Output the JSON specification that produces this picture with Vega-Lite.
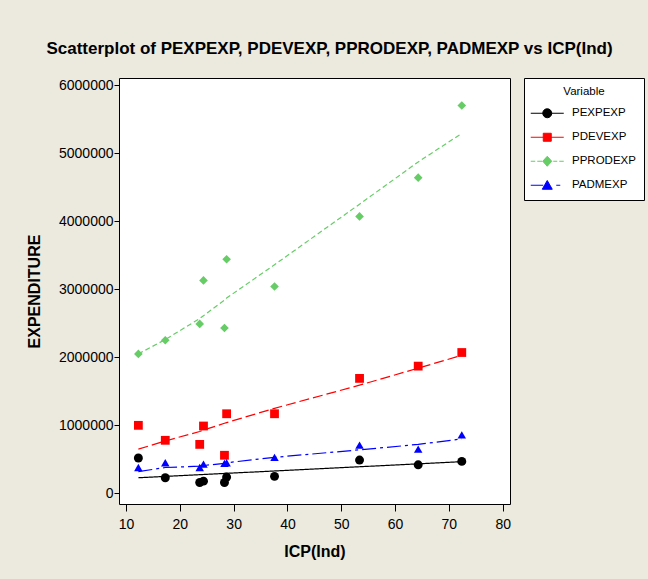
{
  "$schema": "https://vega.github.io/schema/vega-lite/v6.json",
  "width": 391,
  "height": 426,
  "autosize": "none",
  "padding": {"left": 119, "top": 78, "right": 138, "bottom": 75},
  "background": "#ECE9DF",
  "title": {
    "text": "Scatterplot of PEXPEXP, PDEVEXP, PPRODEXP, PADMEXP vs ICP(Ind)",
    "font": "Liberation Sans, Arial, sans-serif",
    "fontSize": 17,
    "fontWeight": "bold",
    "color": "#000000",
    "anchor": "middle",
    "dx": 15,
    "offset": 20
  },
  "config": {
    "view": {"stroke": "#000000", "strokeWidth": 1, "fill": "#FFFFFF"},
    "font": "Liberation Sans, Arial, sans-serif",
    "axis": {
      "domain": false,
      "grid": false,
      "tickColor": "#000000",
      "labelColor": "#000000",
      "titleColor": "#000000",
      "labelFont": "Liberation Sans, Arial, sans-serif",
      "titleFont": "Liberation Sans, Arial, sans-serif",
      "labelFontSize": 14,
      "titleFontSize": 16,
      "titleFontWeight": "bold"
    }
  },
  "data": {
    "values": [
      {"x": 12.3, "series": "PEXPEXP", "y": 520000, "fit": 230000},
      {"x": 17.3, "series": "PEXPEXP", "y": 230000, "fit": 249600},
      {"x": 23.7, "series": "PEXPEXP", "y": 160000, "fit": 274800},
      {"x": 24.4, "series": "PEXPEXP", "y": 180000, "fit": 277500},
      {"x": 28.3, "series": "PEXPEXP", "y": 160000, "fit": 292800},
      {"x": 28.7, "series": "PEXPEXP", "y": 240000, "fit": 294400},
      {"x": 37.6, "series": "PEXPEXP", "y": 250000, "fit": 329400},
      {"x": 53.4, "series": "PEXPEXP", "y": 490000, "fit": 391400},
      {"x": 64.3, "series": "PEXPEXP", "y": 420000, "fit": 434200},
      {"x": 72.4, "series": "PEXPEXP", "y": 470000, "fit": 466000},
      {"x": 12.3, "series": "PDEVEXP", "y": 1000000, "fit": 650000},
      {"x": 17.3, "series": "PDEVEXP", "y": 780000, "fit": 770000},
      {"x": 23.7, "series": "PDEVEXP", "y": 720000, "fit": 910000},
      {"x": 24.4, "series": "PDEVEXP", "y": 990000, "fit": 930000},
      {"x": 28.3, "series": "PDEVEXP", "y": 560000, "fit": 1030000},
      {"x": 28.7, "series": "PDEVEXP", "y": 1170000, "fit": 1040000},
      {"x": 37.6, "series": "PDEVEXP", "y": 1170000, "fit": 1250000},
      {"x": 53.4, "series": "PDEVEXP", "y": 1690000, "fit": 1590000},
      {"x": 64.3, "series": "PDEVEXP", "y": 1870000, "fit": 1840000},
      {"x": 72.4, "series": "PDEVEXP", "y": 2070000, "fit": 2030000},
      {"x": 12.3, "series": "PPRODEXP", "y": 2050000, "fit": 2050000},
      {"x": 17.3, "series": "PPRODEXP", "y": 2250000, "fit": 2260000},
      {"x": 23.7, "series": "PPRODEXP", "y": 2490000, "fit": 2570000},
      {"x": 24.4, "series": "PPRODEXP", "y": 3130000, "fit": 2610000},
      {"x": 28.3, "series": "PPRODEXP", "y": 2430000, "fit": 2840000},
      {"x": 28.7, "series": "PPRODEXP", "y": 3440000, "fit": 2870000},
      {"x": 37.6, "series": "PPRODEXP", "y": 3040000, "fit": 3360000},
      {"x": 53.4, "series": "PPRODEXP", "y": 4070000, "fit": 4250000},
      {"x": 64.3, "series": "PPRODEXP", "y": 4640000, "fit": 4870000},
      {"x": 72.4, "series": "PPRODEXP", "y": 5700000, "fit": 5290000},
      {"x": 12.3, "series": "PADMEXP", "y": 380000, "fit": 320000},
      {"x": 17.3, "series": "PADMEXP", "y": 450000, "fit": 380000},
      {"x": 23.7, "series": "PADMEXP", "y": 380000, "fit": 400000},
      {"x": 24.4, "series": "PADMEXP", "y": 430000, "fit": 410000},
      {"x": 28.3, "series": "PADMEXP", "y": 440000, "fit": 440000},
      {"x": 28.7, "series": "PADMEXP", "y": 450000, "fit": 450000},
      {"x": 37.6, "series": "PADMEXP", "y": 530000, "fit": 530000},
      {"x": 53.4, "series": "PADMEXP", "y": 710000, "fit": 640000},
      {"x": 64.3, "series": "PADMEXP", "y": 650000, "fit": 720000},
      {"x": 72.4, "series": "PADMEXP", "y": 860000, "fit": 800000}
    ]
  },
  "encoding": {
    "x": {
      "field": "x",
      "type": "quantitative",
      "scale": {"domain": [8.7, 81.36], "nice": false, "zero": false},
      "axis": {"values": [10, 20, 30, 40, 50, 60, 70, 80], "tickSize": 7, "labelPadding": 6, "title": "ICP(Ind)", "titlePadding": 12}
    }
  },
  "layer": [
    {
      "mark": {"type": "line", "strokeWidth": 1.2},
      "encoding": {
        "y": {
          "field": "fit",
          "type": "quantitative",
          "scale": {"domain": [-156000, 6104000], "nice": false, "zero": false},
          "axis": {"values": [0, 1000000, 2000000, 3000000, 4000000, 5000000, 6000000], "format": "d", "tickSize": 5, "labelPadding": 1, "title": "EXPENDITURE", "titlePadding": 16}
        },
        "color": {
          "field": "series",
          "type": "nominal",
          "scale": {"domain": ["PEXPEXP", "PDEVEXP", "PPRODEXP", "PADMEXP"], "range": ["#000000", "#FF0000", "#66CC66", "#0000FF"]},
          "legend": null
        },
        "strokeDash": {
          "field": "series",
          "type": "nominal",
          "scale": {"domain": ["PEXPEXP", "PDEVEXP", "PPRODEXP", "PADMEXP"], "range": [[1, 0], [10, 4], [5, 3], [14, 4, 3, 4]]},
          "legend": null
        }
      }
    },
    {
      "mark": {"type": "point", "filled": true, "opacity": 1},
      "encoding": {
        "y": {"field": "y", "type": "quantitative"},
        "color": {
          "field": "series",
          "type": "nominal",
          "scale": {"domain": ["PEXPEXP", "PDEVEXP", "PPRODEXP", "PADMEXP"], "range": ["#000000", "#FF0000", "#66CC66", "#0000FF"]},
          "legend": null
        },
        "shape": {
          "field": "series",
          "type": "nominal",
          "scale": {"domain": ["PEXPEXP", "PDEVEXP", "PPRODEXP", "PADMEXP"], "range": ["circle", "square", "diamond", "triangle-up"]},
          "legend": null
        },
        "size": {
          "field": "series",
          "type": "nominal",
          "scale": {"domain": ["PEXPEXP", "PDEVEXP", "PPRODEXP", "PADMEXP"], "range": [80, 72, 175, 100]},
          "legend": null
        }
      }
    },
    {
      "transform": [{"filter": "datum.y < 0"}],
      "mark": {"type": "point", "filled": true, "opacity": 1},
      "encoding": {
        "y": {"field": "y", "type": "quantitative"},
        "fill": {
          "field": "series",
          "type": "nominal",
          "scale": {"domain": ["PEXPEXP", "PDEVEXP", "PPRODEXP", "PADMEXP"], "range": ["#000000", "#FF0000", "#66CC66", "#0000FF"]},
          "legend": {"title": "Variable"}
        },
        "stroke": {
          "field": "series",
          "type": "nominal",
          "scale": {"domain": ["PEXPEXP", "PDEVEXP", "PPRODEXP", "PADMEXP"], "range": ["#000000", "#FF0000", "#66CC66", "#0000FF"]},
          "legend": {"title": "Variable"}
        },
        "shape": {
          "field": "series",
          "type": "nominal",
          "scale": {
            "domain": ["PEXPEXP", "PDEVEXP", "PPRODEXP", "PADMEXP"],
            "range": [
              "M-3.3,0H3.3M-0.9,0A0.9,0.9 0 1,0 0.9,0A0.9,0.9 0 1,0 -0.9,0Z",
              "M-3.3,0H3.3M-0.8,-0.8H0.8V0.8H-0.8Z",
              "M-3.3,0H-2.4M-2,0H-1M1.2,0H2M2.4,0H3.3M0,-1L0.9,0L0,1L-0.9,0Z",
              "M-3.3,0H-0.8M1.8,0H2.6M0,-0.95L1,0.8H-1Z"
            ]
          },
          "legend": {
            "title": "Variable",
            "orient": "none",
            "legendX": 405,
            "legendY": 0,
            "padding": 8,
            "strokeColor": "#000000",
            "fillColor": "#FFFFFF",
            "titleFont": "Liberation Sans, Arial, sans-serif",
            "titleFontSize": 11.5,
            "titleFontWeight": "normal",
            "titleColor": "#000000",
            "titleAnchor": "middle",
            "titlePadding": 10,
            "labelFont": "Liberation Sans, Arial, sans-serif",
            "labelFontSize": 11.5,
            "labelColor": "#000000",
            "symbolSize": 100,
            "symbolStrokeWidth": 1,
            "symbolOffset": 9.5,
            "labelOffset": 19,
            "rowPadding": 10
          }
        }
      }
    }
  ],
  "resolve": {"scale": {"shape": "independent", "fill": "independent", "stroke": "independent", "size": "independent"}}
}
